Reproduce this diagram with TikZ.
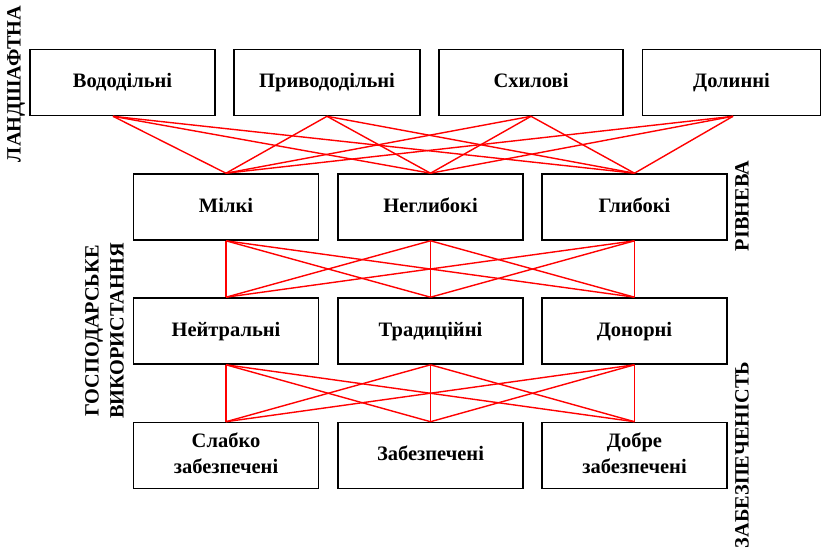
\documentclass[tikz,border=0pt]{standalone}
\usepackage{fontspec}
\setmainfont{Liberation Serif}
\begin{document}
\begin{tikzpicture}[x=1pt,y=-1pt,
  box/.style={draw=black, line width=1.6pt, minimum width=185pt, minimum height=66pt,
    inner sep=0pt, align=center, font=\fontsize{20.5}{26}\selectfont\bfseries},
  side/.style={rotate=90, inner sep=0pt, align=center, font=\fontsize{20.3}{25}\selectfont\bfseries},
  link/.style={draw=red, line width=1.4pt}]
\useasboundingbox (0,0) rectangle (822,552);

% landscape types
\node[box, minimum width=185pt] (A1) at (122.5,82.5) {\strut Вододільні};
\node[box, minimum width=186pt] (A2) at (327,82.5) {\strut Привододільні};
\node[box, minimum width=184pt] (A3) at (531,82.5) {\strut Схилові};
\node[box, minimum width=178pt] (A4) at (731.5,82.5) {\strut Долинні};

% level
\node[box] (B1) at (226,207) {\strut Мілкі};
\node[box] (B2) at (430.5,207) {\strut Неглибокі};
\node[box] (B3) at (634.5,207) {\strut Глибокі};

% economic use
\node[box] (C1) at (226,331) {\strut Нейтральні};
\node[box] (C2) at (430.5,331) {\strut Традиційні};
\node[box] (C3) at (634.5,331) {\strut Донорні};

% supply
\node[box] (D1) at (226,455.5) {\strut Слабко\\\strut забезпечені};
\node[box] (D2) at (430.5,455.5) {\strut Забезпечені};
\node[box] (D3) at (634.5,455.5) {\strut Добре\\\strut забезпечені};

% side captions
\node[side] (L1) at (16,84) {ЛАНДШАФТНА};
\node[side] (L2) at (742,206) {РІВНЕВА};
\node[side] (L3) at (104.5,331) {ГОСПОДАРСЬКЕ\\ВИКОРИСТАННЯ};
\node[side] (L4) at (742,455) {ЗАБЕЗПЕЧЕНІСТЬ};

% connection points on the landscape boxes
\coordinate (a1) at ([xshift=-9.5pt]A1.south);
\coordinate (a2) at (A2.south);
\coordinate (a3) at (A3.south);
\coordinate (a4) at ([xshift=1.5pt]A4.south);

% every landscape type to every level
\foreach \a in {a1,a2,a3,a4}
  \foreach \b in {B1,B2,B3}
    \draw[link] (\a) -- (\b.north);

% every level to every economic use
\foreach \b in {B1,B2,B3}
  \foreach \c in {C1,C2,C3}
    \draw[link] (\b.south) -- (\c.north);

% every economic use to every supply class
\foreach \c in {C1,C2,C3}
  \foreach \d in {D1,D2,D3}
    \draw[link] (\c.south) -- (\d.north);
\end{tikzpicture}
\end{document}
